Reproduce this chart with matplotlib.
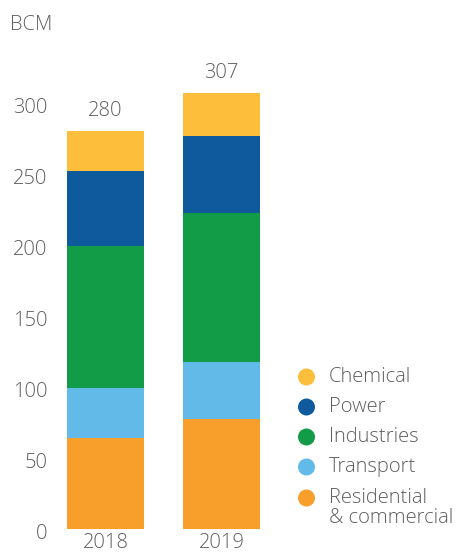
import matplotlib
matplotlib.use("Agg")
import matplotlib.pyplot as plt
from matplotlib.transforms import blended_transform_factory, ScaledTranslation
import numpy as np

years = ["2018", "2019"]
categories = ["Residential\n& commercial", "Transport", "Industries", "Power", "Chemical"]
residential = [64, 77.5]
transport = [35, 40]
industries = [100, 105]
power = [53, 54.5]
chemical = [28, 30]
totals = [280, 307]
yticks = [0, 50, 100, 150, 200, 250, 300]
unit = "BCM"

colors = ["#F79F2A", "#62BAE8", "#139C48", "#0F5A9C", "#FDBF3B"]
text_color = "#5e5e5e"
plt.rcParams["font.family"] = ["Open Sans", "DejaVu Sans"]
plt.rcParams["font.weight"] = "light"
FS = 14.5

W, H = 457, 554
fig = plt.figure(figsize=(W / 100, H / 100), dpi=100)

left_px, right_px = 60, 285
bottom_px, top_px = 529, 60
ax = fig.add_axes([left_px / W, (H - bottom_px) / H, (right_px - left_px) / W, (bottom_px - top_px) / H])
ymax = (bottom_px - top_px) / 1.42
ax.set_ylim(0, ymax)
x0 = 105.5
step = 116.0
ax.set_xlim((left_px - x0) / step, (right_px - x0) / step)

series = [residential, transport, industries, power, chemical]
xs = np.arange(len(years))
bottom = np.zeros(len(years))
for vals, c in zip(series, colors):
    ax.bar(xs, vals, bottom=bottom, width=0.665, color=c, linewidth=0)
    bottom += np.array(vals)

for x, t in zip(xs, totals):
    ax.text(x, t, str(t), ha="center", va="bottom", fontsize=FS, color=text_color,
            transform=ax.transData + ScaledTranslation(0, 0.10, fig.dpi_scale_trans))

for s in ax.spines.values():
    s.set_visible(False)
ax.set_yticks([])
ax.set_xticks([])

trans_y = blended_transform_factory(fig.transFigure, ax.transData) + ScaledTranslation(0, -0.05, fig.dpi_scale_trans)
for v in yticks:
    ax.text(47.5 / W, v, str(v), ha="right", va="center", fontsize=FS, color=text_color, transform=trans_y)

for x, y in zip(xs, years):
    ax.text(x, 0, y, ha="center", va="top", fontsize=FS, color=text_color,
            transform=ax.transData + ScaledTranslation(0, -0.045, fig.dpi_scale_trans))

fig.text(10 / W, 1 - 25 / H, unit, ha="left", va="center", fontsize=FS, color=text_color)

lax = fig.add_axes([0, 0, 1, 1], facecolor="none")
lax.set_xlim(0, W)
lax.set_ylim(H, 0)
lax.axis("off")
rows = [377, 407, 437, 467, 508]
labels_top_down = list(reversed(categories))
colors_top_down = list(reversed(colors))
for yy, lab, c in zip(rows, labels_top_down, colors_top_down):
    multi = "\n" in lab
    lax.add_patch(plt.Circle((306.5, yy - 10 if multi else yy), 8.5, color=c, linewidth=0))
    lax.text(329, yy, lab, ha="left", va="center", fontsize=14.5,
             color=text_color, linespacing=1.0)

fig.savefig("out.png", dpi=100)
